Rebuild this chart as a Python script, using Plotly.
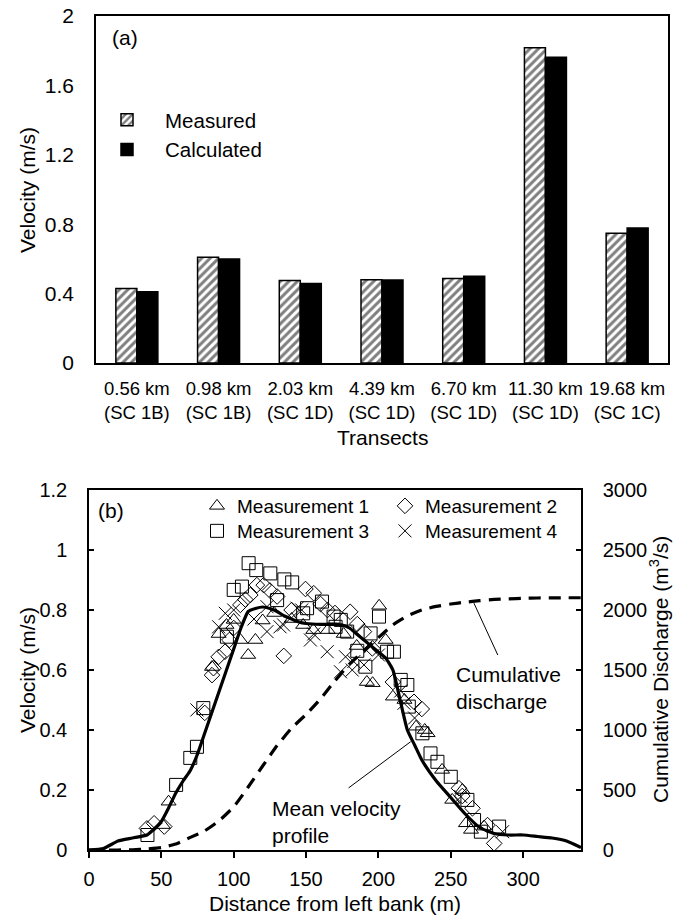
import plotly.graph_objects as go

W, H = 675, 917
FONT = "Arial, Liberation Sans, sans-serif"

# ---------------- (a) bar chart data ----------------
transects = ["0.56 km<br>(SC 1B)", "0.98 km<br>(SC 1B)", "2.03 km<br>(SC 1D)", "4.39 km<br>(SC 1D)",
             "6.70 km<br>(SC 1D)", "11.30 km<br>(SC 1D)", "19.68 km<br>(SC 1C)"]
measured = [0.43, 0.61, 0.475, 0.48, 0.487, 1.817, 0.748]
calculated = [0.41, 0.60, 0.458, 0.478, 0.50, 1.762, 0.778]

# ---------------- (b) velocity profile data ----------------
m1_x = [51, 55, 85, 89.6, 95, 100, 104.6, 110, 115, 120, 128, 140, 148, 155, 165, 176, 185, 192, 196,
        200.5, 205, 210, 218, 226, 232, 234, 244, 251, 258, 260.5, 264, 273]
m1_v = [0.083, 0.161, 0.61, 0.72, 0.75, 0.767, 0.70, 0.65, 0.70, 0.765, 0.79, 0.77, 0.75, 0.733, 0.733,
        0.72, 0.68, 0.56, 0.556, 0.814, 0.70, 0.511, 0.50, 0.411, 0.40, 0.389, 0.267, 0.167, 0.20, 0.089,
        0.067, 0.078]

m2_x = [40, 45, 52, 80, 85, 86, 89.6, 94, 97, 100, 104.6, 108, 111.5, 116, 120.7, 125, 130, 134.6, 140,
        149.6, 155.3, 160, 164.8, 170, 180.5, 185.4, 190, 195.8, 210, 224.6, 230, 255.7, 258, 265, 275.4, 280]
m2_v = [0.072, 0.089, 0.078, 0.457, 0.583, 0.606, 0.644, 0.661, 0.70, 0.74, 0.817, 0.835, 0.85, 0.883,
        0.883, 0.865, 0.845, 0.647, 0.80, 0.87, 0.856, 0.82, 0.80, 0.79, 0.794, 0.753, 0.728, 0.672, 0.56,
        0.494, 0.47, 0.206, 0.18, 0.139, 0.083, 0.022]

m3_x = [40.4, 60.2, 70, 74.6, 79, 95.3, 100, 105.7, 110.3, 115.6, 125.3, 130, 135, 140.4, 148, 150.7,
        161, 169, 170.4, 174, 178.4, 185.4, 191, 194.6, 200.4, 206, 210.7, 215.4, 220, 221, 230.4, 236,
        240.8, 250, 261.5, 266.1, 270.8, 283.4]
m3_v = [0.05, 0.217, 0.307, 0.344, 0.473, 0.711, 0.867, 0.878, 0.956, 0.933, 0.922, 0.833, 0.902, 0.892,
        0.789, 0.806, 0.828, 0.778, 0.744, 0.767, 0.728, 0.664, 0.611, 0.722, 0.778, 0.661, 0.661, 0.567,
        0.55, 0.478, 0.389, 0.322, 0.294, 0.244, 0.167, 0.10, 0.061, 0.078]

m4_x = [74.6, 89.6, 94.2, 100, 114, 123, 123, 132, 134.5, 143.8, 147, 153, 155.3, 164.6, 173.8, 177.3,
        181.9, 183, 190, 194.6, 200, 215.4, 217.7, 225, 257, 285.8]
m4_v = [0.467, 0.744, 0.789, 0.80, 0.77, 0.811, 0.728, 0.744, 0.75, 0.806, 0.80, 0.70, 0.72, 0.661, 0.594,
        0.644, 0.60, 0.628, 0.617, 0.678, 0.65, 0.53, 0.489, 0.44, 0.178, 0.061]

mean_x = [0, 10, 20, 30, 40, 45, 50, 55, 60, 65, 70, 75, 80, 85, 90, 95, 100, 105, 110, 115, 120, 125,
          130, 135, 140, 145, 150, 160, 170, 175, 180, 185, 190, 195, 200, 205, 210, 215, 220, 225, 230,
          240, 250, 260, 270, 280, 290, 300, 310, 320, 330, 340]
mean_v = [0, 0.005, 0.03, 0.04, 0.05, 0.07, 0.095, 0.14, 0.19, 0.23, 0.265, 0.32, 0.39, 0.46, 0.53, 0.60,
          0.67, 0.74, 0.795, 0.805, 0.81, 0.805, 0.795, 0.78, 0.77, 0.76, 0.755, 0.752, 0.752, 0.75, 0.74,
          0.72, 0.70, 0.68, 0.66, 0.64, 0.60, 0.50, 0.40, 0.35, 0.30, 0.23, 0.175, 0.12, 0.075, 0.055,
          0.05, 0.05, 0.045, 0.04, 0.03, 0.008]

cum_x = [0, 10, 20, 30, 40, 50, 60, 70, 80, 90, 100, 110, 120, 130, 140, 150, 160, 170, 180, 190, 200,
         210, 220, 230, 240, 250, 260, 270, 280, 290, 300, 310, 320, 330, 340]
cum_q = [0, 0, 0, 2, 8, 20, 50, 105, 160, 245, 360, 525, 700, 870, 1015, 1130, 1260, 1410, 1550, 1660,
         1770, 1875, 1950, 2000, 2030, 2050, 2065, 2078, 2088, 2093, 2097, 2100, 2101, 2102, 2102]


def px_x(p):
    return p / W


def px_y(p):
    return 1 - p / H


fig = go.Figure()

# ---- (a) bars ----
fig.add_trace(go.Bar(
    x=transects, y=measured, name="Measured", xaxis="x", yaxis="y",
    marker=dict(color="white", line=dict(color="black", width=1.5),
                pattern=dict(shape="/", fgcolor="black", bgcolor="white", size=6, solidity=0.5)),
    legend="legend", legendgroup="a"))
fig.add_trace(go.Bar(
    x=transects, y=calculated, name="Calculated", xaxis="x", yaxis="y",
    marker=dict(color="black", line=dict(color="black", width=1.5)),
    legend="legend", legendgroup="b"))

# ---- (b) scatter ----
mk = dict(size=13, color="black", line=dict(color="black", width=1))
fig.add_trace(go.Scatter(x=m1_x, y=m1_v, mode="markers", name="Measurement 1", xaxis="x2", yaxis="y2",
                         marker=dict(mk, symbol="triangle-up-open"), legend="legend2"))
fig.add_trace(go.Scatter(x=m2_x, y=m2_v, mode="markers", name="Measurement 2", xaxis="x2", yaxis="y2",
                         marker=dict(mk, symbol="diamond-open", size=12), legend="legend2"))
fig.add_trace(go.Scatter(x=m3_x, y=m3_v, mode="markers", name="Measurement 3", xaxis="x2", yaxis="y2",
                         marker=dict(mk, symbol="square-open"), legend="legend3"))
fig.add_trace(go.Scatter(x=m4_x, y=m4_v, mode="markers", name="Measurement 4", xaxis="x2", yaxis="y2",
                         marker=dict(mk, symbol="x-thin-open"), legend="legend3"))
fig.add_trace(go.Scatter(x=mean_x, y=mean_v, mode="lines", name="Mean velocity profile", xaxis="x2",
                         yaxis="y2", line=dict(color="black", width=3.2, shape="spline", smoothing=0.5),
                         showlegend=False))
fig.add_trace(go.Scatter(x=cum_x, y=cum_q, mode="lines", name="Cumulative discharge", xaxis="x2",
                         yaxis="y3", line=dict(color="black", width=3.2, dash="12px,8px", shape="spline",
                                               smoothing=0.5),
                         showlegend=False))

tickfont = dict(family=FONT, size=20, color="black")
axcommon = dict(showline=True, linecolor="black", linewidth=1.5, mirror=True, showgrid=False,
                zeroline=False, automargin=False)

fig.update_layout(
    width=W, height=H,
    margin=dict(l=0, r=0, t=0, b=0),
    paper_bgcolor="white", plot_bgcolor="white",
    font=dict(family=FONT, color="black", size=19),
    barmode="group", bargap=0.486, bargroupgap=0,
    xaxis=dict(axcommon, domain=[px_x(96), px_x(668)], anchor="y", ticks="",
               tickfont=dict(family=FONT, size=18.5, color="black"), ticklabelstandoff=8),
    yaxis=dict(axcommon, domain=[px_y(363), px_y(16)], anchor="x", range=[0, 2], dtick=0.4,
               ticks="", tickfont=dict(family=FONT, size=21, color="black"), ticklabelstandoff=16),
    xaxis2=dict(axcommon, domain=[px_x(89), px_x(581)], anchor="y2", range=[0, 340], dtick=50,
                ticks="outside", ticklen=6, tickwidth=1.5, tickcolor="black", tickfont=tickfont,
                ticklabelstandoff=4),
    yaxis2=dict(axcommon, domain=[px_y(850), px_y(490)], anchor="x2", range=[0, 1.2], dtick=0.2,
                ticks="inside", ticklen=5, tickwidth=1.5, tickcolor="black", tickfont=tickfont,
                ticklabelstandoff=16),
    yaxis3=dict(axcommon, overlaying="y2", side="right", anchor="x2", range=[0, 3000], dtick=500,
                ticks="inside", ticklen=5, tickwidth=1.5, tickcolor="black", tickfont=tickfont,
                ticklabelstandoff=16, mirror=False),
    legend=dict(x=px_x(89), y=px_y(135), xanchor="left", yanchor="middle", bgcolor="rgba(0,0,0,0)",
                font=dict(family=FONT, size=20.5, color="black"), itemwidth=66, tracegroupgap=16,
                traceorder="normal"),
    legend2=dict(x=px_x(197), y=px_y(506), xanchor="left", yanchor="middle", orientation="h",
                 bgcolor="rgba(0,0,0,0)", font=dict(family=FONT, size=19, color="black"),
                 itemwidth=30, entrywidth=143),
    legend3=dict(x=px_x(197), y=px_y(531), xanchor="left", yanchor="middle", orientation="h",
                 bgcolor="rgba(0,0,0,0)", font=dict(family=FONT, size=19, color="black"),
                 itemwidth=30, entrywidth=143),
)

TF = dict(size=21)
ann = []
# panel labels
ann.append(dict(text="(a)", x=px_x(110), y=px_y(37), xref="paper", yref="paper", xanchor="left",
                yanchor="middle", showarrow=False, font=TF))
ann.append(dict(text="(b)", x=px_x(96), y=px_y(510), xref="paper", yref="paper", xanchor="left",
                yanchor="middle", showarrow=False, font=TF))
# axis titles
ann.append(dict(text="Velocity (m/s)", x=px_x(27), y=px_y(190), xref="paper", yref="paper",
                xanchor="center", yanchor="middle", textangle=-90, showarrow=False, font=TF))
ann.append(dict(text="Transects", x=px_x(382), y=px_y(437), xref="paper", yref="paper",
                xanchor="center", yanchor="middle", showarrow=False, font=TF))
ann.append(dict(text="Velocity (m/s)", x=px_x(27), y=px_y(670), xref="paper", yref="paper",
                xanchor="center", yanchor="middle", textangle=-90, showarrow=False, font=TF))
ann.append(dict(text="Distance from left bank (m)", x=px_x(335), y=px_y(903), xref="paper",
                yref="paper", xanchor="center", yanchor="middle", showarrow=False, font=TF))
ann.append(dict(text="Cumulative Discharge (m<sup>3</sup>/s)", x=px_x(659), y=px_y(670), xref="paper",
                yref="paper", xanchor="center", yanchor="middle", textangle=-90, showarrow=False,
                font=TF))
# callouts
ann.append(dict(text="Cumulative<br>discharge", x=252, y=0.54, xref="x2", yref="y2", xanchor="left",
                yanchor="middle", align="left", showarrow=False, font=TF))
ann.append(dict(text="Mean velocity<br>profile", x=125.3, y=0.095, xref="x2", yref="y2",
                xanchor="left", yanchor="middle", align="left", showarrow=False, font=TF))
fig.update_layout(annotations=ann)

# leader lines
fig.add_shape(type="line", x0=282.5, y0=0.65, x1=266, y1=0.823, xref="x2", yref="y2",
              line=dict(color="black", width=1))
fig.add_shape(type="line", x0=179.4, y0=0.207, x1=222.3, y1=0.361, xref="x2", yref="y2",
              line=dict(color="black", width=1))

fig.write_html("out.html")
